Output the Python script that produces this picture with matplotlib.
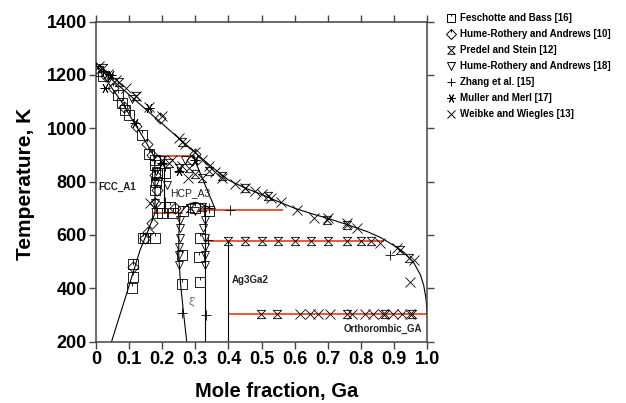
import numpy as np
import matplotlib
matplotlib.use('Agg')
import matplotlib.pyplot as plt
from matplotlib.path import Path
from matplotlib.lines import Line2D

plt.rcParams['font.family'] = ['Liberation Sans', 'DejaVu Sans']

# ---- phase boundaries (mole fraction Ga, temperature K) ----
liq_x = [0.0, 0.1, 0.2, 0.3, 0.35, 0.4, 0.45, 0.5, 0.55, 0.6, 0.65, 0.7, 0.76, 0.82, 0.86, 0.9, 0.93, 0.96, 0.98, 0.99, 0.997, 1.0]
liq_t = [1235, 1126, 1017, 908, 855, 806, 776, 752, 725, 700, 680, 662, 638, 612, 590, 560, 535, 495, 450, 410, 360, 302]
sol_x = [0.0, 0.04, 0.08, 0.113, 0.143, 0.175]
sol_t = [1235, 1165, 1094, 1025, 965, 895]
fcc_x = [0.175, 0.178, 0.178, 0.16, 0.133, 0.09, 0.047]
fcc_t = [895, 850, 682, 625, 543, 370, 200]
hcp_l_x = [0.205, 0.205]
hcp_l_t = [895, 682]
hcp_r_x = [0.294, 0.36]
hcp_r_t = [893, 697]
dome_x = [0.254, 0.27, 0.285, 0.30, 0.32, 0.35]
dome_t = [681, 705, 718, 722, 715, 697]
zeta_l_x = [0.254, 0.25, 0.25, 0.255, 0.265, 0.274]
zeta_l_t = [681, 600, 520, 420, 300, 200]
zeta_r_x = [0.329, 0.329]
zeta_r_t = [200, 712]
ag3_x = [0.4, 0.4]
ag3_t = [200, 578]

# invariant lines: (x start, x end, temperature)
inv_x0 = [0.172, 0.172, 0.31, 0.33, 0.4]
inv_x1 = [0.30, 0.263, 0.565, 0.87, 1.0]
inv_t = [895, 681, 693, 578, 303]

# ---- experimental points ----
fb_x = [0.005, 0.02, 0.065, 0.078, 0.088, 0.10, 0.14, 0.16, 0.178, 0.178, 0.183, 0.208, 0.18, 0.178,
        0.183, 0.224, 0.20, 0.233, 0.263, 0.30, 0.34, 0.143, 0.178, 0.314, 0.113, 0.113, 0.108,
        0.259, 0.259, 0.312, 0.314, 0.183, 0.148]
fb_t = [1215, 1195, 1125, 1095, 1068, 1050, 975, 905, 880, 862, 831, 831, 800, 770,
        682, 706, 683, 681, 690, 700, 690, 587, 587, 587, 490, 443, 400,
        525, 415, 518, 424, 825, 587]
hr10_x = [0.0, 0.03, 0.05, 0.085, 0.12, 0.155, 0.193, 0.30, 0.17, 0.183, 0.178, 0.168, 0.158, 0.148,
          0.113, 0.24, 0.29, 0.178]
hr10_t = [1228, 1195, 1150, 1080, 1010, 940, 1037, 905, 900, 768, 719, 645, 612, 587,
          481, 700, 880, 825]
ps_x = [0.40, 0.45, 0.50, 0.55, 0.60, 0.65, 0.70, 0.757, 0.80, 0.83,
        0.498, 0.548, 0.757, 0.873, 0.954,
        0.02, 0.07, 0.12, 0.26, 0.34, 0.38, 0.45, 0.52, 0.697, 0.757, 0.918, 0.944,
        0.284, 0.319, 0.20, 0.22, 0.25, 0.28, 0.30, 0.32]
ps_t = [578, 578, 578, 578, 578, 578, 578, 578, 578, 578,
        303, 303, 303, 303, 303,
        1225, 1175, 1120, 950, 840, 820, 775, 745, 656, 637, 543, 512,
        700, 706, 880, 870, 850, 850, 830, 815]
hr18_x = [0.25, 0.25, 0.25, 0.254, 0.254, 0.254, 0.329, 0.329, 0.329, 0.329, 0.324, 0.33,
          0.178, 0.178, 0.213, 0.18, 0.04, 0.11, 0.27, 0.30]
hr18_t = [487, 525, 556, 590, 625, 655, 487, 525, 556, 590, 625, 655,
          719, 793, 787, 840, 1190, 1110, 880, 690]
zh_x = [0.259, 0.331, 0.339, 0.34, 0.405, 0.888, 0.208, 0.18]
zh_t = [306, 300, 581, 700, 694, 525, 725, 700]
mm_x = [0.027, 0.118, 0.045, 0.16, 0.20, 0.30, 0.25]
mm_t = [1150, 1019, 1200, 1075, 870, 880, 840]
wb_x = [0.01, 0.035, 0.06, 0.09, 0.12, 0.16, 0.20, 0.25, 0.27, 0.30, 0.32, 0.34, 0.36, 0.38,
        0.42, 0.45, 0.48, 0.50, 0.53, 0.56, 0.606, 0.657, 0.70, 0.757, 0.788, 0.858, 0.908, 0.949, 0.96,
        0.616, 0.646, 0.672, 0.707, 0.772, 0.813, 0.838, 0.868, 0.898, 0.923, 0.949,
        0.163, 0.279, 0.23, 0.26]
wb_t = [1232, 1205, 1180, 1150, 1120, 1080, 1045, 965, 940, 910, 880, 860, 835, 815,
        790, 775, 765, 752, 740, 725, 693, 663, 665, 643, 625, 570, 551, 424, 505,
        303, 303, 303, 303, 303, 303, 303, 303, 303, 303, 303,
        718, 812, 880, 860]

legend_labels = ['Feschotte and Bass [16]', 'Hume-Rothery and Andrews [10]', 'Predel and Stein [12]',
                 'Hume-Rothery and Andrews [18]', 'Zhang et al. [15]', 'Muller and Merl [17]',
                 'Weibke and Wiegles [13]']

x_ticks = [0, 0.1, 0.2, 0.3, 0.4, 0.5, 0.6, 0.7, 0.8, 0.9, 1.0]
x_ticklabels = ['0', '0.1', '0.2', '0.3', '0.4', '0.5', '0.6', '0.7', '0.8', '0.9', '1.0']
y_ticks = [200, 400, 600, 800, 1000, 1200, 1400]

M, L, C = Path.MOVETO, Path.LINETO, Path.CLOSEPOLY
sq_tick = Path([(-1, -1), (1, -1), (1, 1), (-1, 1), (-1, -1), (0, 1), (0, 0.4)],
               [M, L, L, L, C, M, L])
dia_tick = Path([(0, 1), (1, 0), (0, -1), (-1, 0), (0, 1), (0, 1), (0, 0.4)],
                [M, L, L, L, C, M, L])
hourglass = Path([(-1, 1), (1, 1), (-1, -1), (1, -1), (-1, 1)], [M, L, L, L, C])

styles = [
    dict(marker=sq_tick, ms=7),
    dict(marker=dia_tick, ms=8),
    dict(marker=hourglass, ms=6),
    dict(marker='v', ms=6),
    dict(marker='+', ms=7),
    dict(marker=(6, 2, 90), ms=7),
    dict(marker='x', ms=7),
]
data = [(fb_x, fb_t), (hr10_x, hr10_t), (ps_x, ps_t), (hr18_x, hr18_t),
        (zh_x, zh_t), (mm_x, mm_t), (wb_x, wb_t)]

fig = plt.figure(figsize=(6.26, 4.03), dpi=100)
ax = fig.add_axes([0.1534, 0.1526, 0.5288, 0.7936])

line_kw = dict(color='black', lw=0.8, zorder=2)
ax.plot(liq_x, liq_t, **line_kw)
ax.plot(sol_x, sol_t, **line_kw)
ax.plot(fcc_x, fcc_t, **line_kw)
ax.plot(hcp_l_x, hcp_l_t, **line_kw)
ax.plot(hcp_r_x, hcp_r_t, **line_kw)
ax.plot(dome_x, dome_t, **line_kw)
ax.plot(zeta_l_x, zeta_l_t, **line_kw)
ax.plot(zeta_r_x, zeta_r_t, **line_kw)
ax.plot(ag3_x, ag3_t, **line_kw)
ax.hlines(inv_t, inv_x0, inv_x1, colors='#f0481f', lw=1.3, zorder=1)

handles = []
for (xs, ts), st, lab in zip(data, styles, legend_labels):
    ax.plot(xs, ts, ls='none', marker=st['marker'], ms=st['ms'], mfc='none',
            mec='black', mew=0.6, zorder=3)
    handles.append(Line2D([], [], ls='none', marker=st['marker'], ms=st['ms'] * 0.9,
                          mfc='none', mec='black', mew=0.7))

ax.text(0.006, 781, 'FCC_A1', fontsize=7, fontweight='bold', va='center', ha='left', color='#222222')
ax.text(0.224, 757, 'HCP_A3', fontsize=7.5, va='center', ha='left', color='#222222')
ax.text(0.41, 431, 'Ag3Ga2', fontsize=7, fontweight='bold', va='center', ha='left', color='#222222')
ax.text(0.984, 247, 'Orthorombic_GA', fontsize=7, fontweight='bold', va='center', ha='right', color='#222222')
ax.text(0.289, 349, "\u03be'", fontsize=8, va='center', ha='center', color='#666666')

ax.set_xlim(0, 1.0)
ax.set_ylim(200, 1400)
ax.set_xticks(x_ticks)
ax.set_xticklabels(x_ticklabels)
ax.set_yticks(y_ticks)
for lab in ax.get_xticklabels() + ax.get_yticklabels():
    lab.set_fontweight('bold')
    lab.set_fontsize(13)
ax.tick_params(direction='out', top=True, right=True, length=5, width=1.0, color='#444444')
ax.tick_params(axis='x', pad=2)
ax.tick_params(axis='y', pad=1.5)
for sp in ax.spines.values():
    sp.set_color('#444444')
    sp.set_linewidth(1.1)

ax.set_xlabel('Mole fraction, Ga', fontsize=14.5, fontweight='bold')
ax.set_ylabel('Temperature, K', fontsize=15, fontweight='bold')
ax.xaxis.label.set_va('center')
ax.yaxis.label.set_va('center')
ax.xaxis.set_label_coords(0.546, -0.155)
ax.yaxis.set_label_coords(-0.2145, 0.494)

fig.legend(handles, legend_labels, loc='upper left', bbox_to_anchor=(0.707, 0.977),
           frameon=False, prop={'weight': 'bold', 'size': 7}, handlelength=1.0,
           handletextpad=0.4, labelspacing=0.62, borderaxespad=0)

plt.savefig('out.png', dpi=100)
